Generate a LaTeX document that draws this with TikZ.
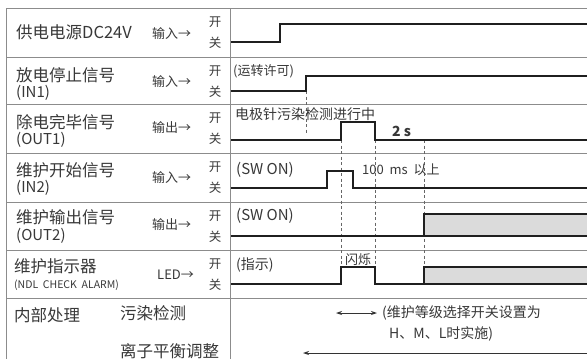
\documentclass[tikz,border=0pt]{standalone}
\usepackage{fontspec}
\setmainfont{Noto Sans CJK SC}
\usetikzlibrary{arrows.meta}
\begin{document}
\begin{tikzpicture}[x=1pt,y=-1pt,
  txt/.style={text=black!78, inner sep=0pt, anchor=west},
  big/.style={txt, font=\fontsize{16.5}{18}\selectfont},
  mid/.style={txt, font=\fontsize{15}{17}\selectfont},
  tl/.style={txt, font=\fontsize{14}{16}\selectfont},
  sml/.style={txt, font=\fontsize{13}{15}\selectfont},
  tiny/.style={txt, font=\fontsize{10.5}{12}\selectfont},
  onoff/.style={text=black!78, inner sep=0pt, font=\fontsize{12.5}{14}\selectfont},
  gridline/.style={draw=black!45, line width=0.8pt},
  sig/.style={draw=black!88, line width=1.6pt, line join=miter},
  guide/.style={draw=black!60, line width=0.7pt, dash pattern=on 3pt off 2.5pt},
  arr/.style={draw=black!80, line width=0.9pt, -{Stealth[length=6pt,width=4pt]}}]
\useasboundingbox (0,0) rectangle (587,359);
\fill[white] (0,0) rectangle (587,359);

% grid
\foreach \y in {8,57,104,153,202,250,298} \draw[gridline] (6,\y) -- (587,\y);
\draw[gridline] (6,8) -- (6,359);
\draw[gridline] (230,8) -- (230,359);

% left labels
\node[big] (l1) at (16,32) {供电电源DC24V};
\node[big] (l2a) at (16,75) {放电停止信号};
\node[mid] (l2b) at (16,93) {(IN1)};
\node[big] (l3a) at (16,122) {除电完毕信号};
\node[mid] (l3b) at (16,140) {(OUT1)};
\node[big] (l4a) at (16,170) {维护开始信号};
\node[mid] (l4b) at (16,188) {(IN2)};
\node[big] (l5a) at (16,217) {维护输出信号};
\node[mid] (l5b) at (16,236) {(OUT2)};
\node[big] (l6a) at (14,266) {维护指示器};
\node[tiny] (l6b) at (14,285) {(NDL\ \ CHECK\ \ ALARM)};
\node[big] (l7a) at (14,315) {内部处理};
\node[big] (l7b) at (120,313) {污染检测};
\node[big] (l7c) at (120,351) {离子平衡调整};

\node[sml] (d1) at (152,34) {输入→};
\node[sml] (d2) at (152,82) {输入→};
\node[sml] (d3) at (152,128) {输出→};
\node[sml] (d4) at (152,178) {输入→};
\node[sml] (d5) at (152,225) {输出→};
\node[sml] (d6) at (157,275) {LED→};

\foreach \t/\n in {8/1,57/2,104/3,153/4,202/5,250/6}{
  \node[onoff] (k\n) at (215,\t+14) {开};
  \node[onoff] (g\n) at (215,\t+35) {关};
}

% guides
\draw[guide] (306,91) -- (306,133);
\draw[guide] (341,140) -- (341,268);
\draw[guide] (375,140) -- (375,268);
\draw[guide] (424,140) -- (424,268);

% fills
\fill[black!14] (424,214) rectangle (587,236);
\fill[black!14] (424,267) rectangle (587,284);

% signals
\draw[sig] (231,42) -- (280,42) -- (280,24) -- (587,24);
\draw[sig] (231,91) -- (306,91) -- (306,76) -- (587,76);
\draw[sig] (231,140) -- (341,140) -- (341,122) -- (375,122) -- (375,140) -- (587,140);
\draw[sig] (231,188) -- (327,188) -- (327,171) -- (353,171) -- (353,188) -- (587,188);
\draw[sig] (231,236) -- (424,236) -- (424,214) -- (587,214);
\draw[sig] (587,236) -- (424,236);
\draw[sig] (231,284) -- (341,284) -- (341,267) -- (375,267) -- (375,284) -- (424,284) -- (424,267) -- (587,267);
\draw[sig] (424,284) -- (587,284);

% timing labels
\node[sml] (t1) at (233,71) {(运转许可)};
\node[tl] (t2) at (235,114) {电极针污染检测进行中};
\node[tl, font=\fontsize{14}{16}\selectfont\bfseries] (t3) at (392,131) {2 s};
\node[mid] (t4) at (236,170) {(SW ON)};
\node[sml] (t5) at (362,170) {100\ \ ms\ \ 以上};
\node[mid] (t6) at (236,216) {(SW ON)};
\node[tl] (t7) at (236,265) {(指示)};
\node[sml, anchor=center] (t8) at (358,260) {闪烁};
\node[tl] (t9) at (382,313) {(维护等级选择开关设置为};
\node[tl] (t10) at (389,334) {H、M、L时实施)};

% arrows
\coordinate (a1) at (336,313);
\coordinate (a2) at (377,313);
\draw[arr, {Stealth[length=6pt,width=4pt]}-{Stealth[length=6pt,width=4pt]}] (a1) -- (a2);
\coordinate (b1) at (590,353);
\coordinate (b2) at (303,353);
\draw[arr] (b1) -- (b2);
\end{tikzpicture}
\end{document}
